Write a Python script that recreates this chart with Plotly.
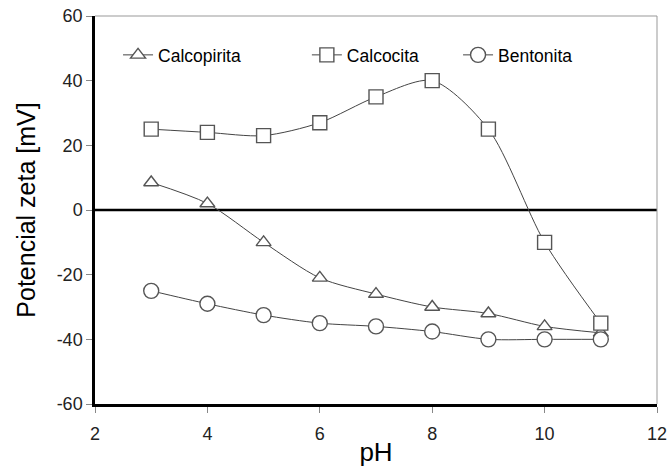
import plotly.graph_objects as go

ph = [3, 4, 5, 6, 7, 8, 9, 10, 11]
calcopirita = [8.5, 2, -10, -21, -26, -30, -32, -36, -38]
calcocita = [25, 24, 23, 27, 35, 40, 25, -10, -35]
bentonita = [-25, -29, -32.5, -35, -36, -37.6, -40, -40, -40]

x_ticks = [2, 4, 6, 8, 10, 12]
y_ticks = [-60, -40, -20, 0, 20, 40, 60]
y_ticktext = ["-60", "-40", "-20", "0", "20", "40", "60"]

series = [
    ("Calcopirita", calcopirita, "triangle-up", 13, "legend", 0.041),
    ("Calcocita", calcocita, "square", 14, "legend2", 0.377),
    ("Bentonita", bentonita, "circle", 15, "legend3", 0.646),
]

fig = go.Figure()
for name, vals, sym, sz, leg, _ in series:
    fig.add_trace(go.Scatter(
        x=ph, y=vals, name=name, mode="lines+markers", legend=leg,
        line=dict(color="#444444", width=1, shape="spline", smoothing=0.8),
        marker=dict(symbol=sym, size=sz, color="white",
                    line=dict(color="#555555", width=1.4)),
    ))

fig.add_hline(y=0, line=dict(color="black", width=2.5), layer="below")

# thin grey top / right frame
fig.add_shape(type="line", xref="paper", yref="paper", x0=0, x1=1, y0=1, y1=1,
              line=dict(color="#999999", width=1))
fig.add_shape(type="line", xref="paper", yref="paper", x0=1, x1=1, y0=0, y1=1,
              line=dict(color="#999999", width=1))

tickfont = dict(family="Liberation Sans, Arial, sans-serif", size=18, color="#222222")

legend_common = dict(orientation="h", y=0.8995, xanchor="left", yanchor="middle",
                     bgcolor="rgba(0,0,0,0)", font=dict(size=17.5), itemwidth=30)

fig.update_layout(
    width=669, height=467,
    margin=dict(l=95, r=12, t=16, b=63, autoexpand=False),
    paper_bgcolor="white", plot_bgcolor="white",
    font=dict(family="Liberation Sans, Arial, sans-serif", color="black"),
    showlegend=True,
    legend=dict(x=series[0][5], **legend_common),
    legend2=dict(x=series[1][5], **legend_common),
    legend3=dict(x=series[2][5], **legend_common),
    xaxis=dict(range=[2, 12], tickvals=x_ticks, showgrid=False, automargin=False,
               zeroline=False, showline=True, linecolor="black", linewidth=2.5,
               ticks="outside", ticklen=6, tickcolor="#888888",
               tickfont=tickfont, ticklabelstandoff=6,
               title=dict(text="pH", font=dict(size=26), standoff=2)),
    yaxis=dict(range=[-60, 60], tickvals=y_ticks, ticktext=y_ticktext, showgrid=False,
               automargin=False,
               zeroline=False, showline=True, linecolor="black", linewidth=2.5,
               ticks="outside", ticklen=6, tickcolor="#888888",
               tickfont=tickfont,
               title=dict(text="Potencial zeta [mV]", font=dict(size=25), standoff=14)),
)

fig.write_html("out.html")
